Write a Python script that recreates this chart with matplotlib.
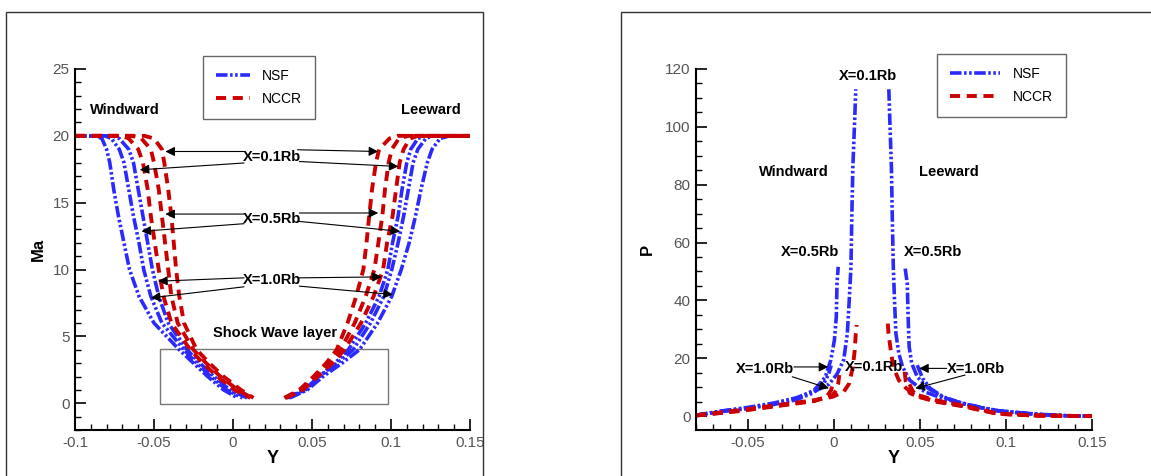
# -*- coding: utf-8 -*-
from matplotlib import pyplot as plt
from matplotlib.patches import Rectangle
from matplotlib.lines import Line2D
from matplotlib.ticker import MultipleLocator, FormatStrFormatter
import numpy as np

plt.rcParams['font.family'] = ['Liberation Sans', 'DejaVu Sans']
plt.rcParams['axes.unicode_minus'] = False

# ---- Mach number profiles (left plot) ----
# Ma levels where the profiles were read, top of the shock down to the wall
ma_levels = [20, 19.8, 19, 18, 16, 14, 12, 10, 8, 6, 4, 3, 2, 1, 0.4]

# windward side, Y at each Ma level
wind_nsf = {
    '1.0': [-0.087, -0.083, -0.080, -0.078, -0.0755, -0.0725, -0.069, -0.0655, -0.0595, -0.050, -0.034, -0.025, -0.016, -0.006, 0.003],
    '0.5': [-0.081, -0.077, -0.072, -0.069, -0.066, -0.063, -0.0595, -0.0565, -0.052, -0.045, -0.031, -0.023, -0.014, -0.004, 0.006],
    '0.1': [-0.076, -0.072, -0.066, -0.063, -0.060, -0.057, -0.054, -0.051, -0.047, -0.041, -0.029, -0.021, -0.012, -0.002, 0.009],
}
wind_nccr = {
    '1.0': [-0.070, -0.066, -0.060, -0.057, -0.054, -0.052, -0.0495, -0.047, -0.044, -0.039, -0.027, -0.019, -0.010, 0.001, 0.011],
    '0.5': [-0.064, -0.058, -0.052, -0.050, -0.047, -0.045, -0.043, -0.041, -0.039, -0.035, -0.025, -0.017, -0.008, 0.003, 0.012],
    '0.1': [-0.056, -0.050, -0.045, -0.0435, -0.041, -0.039, -0.0375, -0.036, -0.034, -0.031, -0.023, -0.015, -0.006, 0.005, 0.013],
}
# leeward side
lee_nsf = {
    '1.0': [0.137, 0.131, 0.126, 0.123, 0.119, 0.1155, 0.1115, 0.1065, 0.1005, 0.0915, 0.080, 0.069, 0.057, 0.047, 0.036],
    '0.5': [0.126, 0.122, 0.117, 0.114, 0.111, 0.108, 0.1045, 0.1005, 0.0955, 0.087, 0.076, 0.066, 0.055, 0.046, 0.035],
    '0.1': [0.121, 0.117, 0.1125, 0.110, 0.107, 0.1045, 0.101, 0.098, 0.0925, 0.084, 0.073, 0.0645, 0.0545, 0.045, 0.034],
}
lee_nccr = {
    '1.0': [0.117, 0.112, 0.108, 0.1055, 0.1032, 0.101, 0.0975, 0.095, 0.089, 0.081, 0.0705, 0.063, 0.0535, 0.044, 0.0335],
    '0.5': [0.111, 0.105, 0.1005, 0.0985, 0.0962, 0.0945, 0.092, 0.0895, 0.084, 0.077, 0.068, 0.061, 0.052, 0.043, 0.033],
    '0.1': [0.104, 0.099, 0.0925, 0.0905, 0.088, 0.0862, 0.0845, 0.0825, 0.078, 0.0725, 0.0656, 0.059, 0.051, 0.042, 0.0325],
}

# ---- pressure profiles (right plot) ----
p_wind_nsf = {
    '0.1': ([-0.08, -0.065, -0.05, -0.035, -0.022, -0.0113, -0.0028, 0.0019, 0.0058, 0.0079, 0.009, 0.0100, 0.0105, 0.0111, 0.0122, 0.0128],
            [0.3, 1.8, 3.0, 4.5, 6.3, 8.5, 11, 14.5, 19.5, 28.6, 40, 51.6, 69, 86, 103, 113]),
    '0.5': ([-0.08, -0.065, -0.05, -0.035, -0.022, -0.0113, -0.0049, -0.0017, 0.0004, 0.0015, 0.0019, 0.0026],
            [0.3, 1.7, 2.8, 4.3, 6.0, 9.0, 13.5, 19.4, 26.3, 34.4, 45.9, 51.6]),
    '1.0': ([-0.08, -0.065, -0.05, -0.035, -0.022, -0.012, -0.006, -0.003, -0.0015],
            [0.3, 1.6, 2.6, 4.0, 5.6, 8.0, 11, 14.5, 17.5]),
}
p_wind_nccr = {
    '0.1': ([-0.08, -0.054, -0.0327, -0.0113, -0.0006, 0.0058, 0.009, 0.0111, 0.0122, 0.0128, 0.0133],
            [0.3, 2.1, 3.8, 5.5, 6.7, 8.4, 11.3, 17, 22.8, 28.6, 31.5]),
    '0.5': ([-0.08, -0.054, -0.0327, -0.0113, -0.0006, 0.0015, 0.0026, 0.0032],
            [0.2, 1.9, 3.6, 5.3, 7.3, 9.0, 11.3, 14.2]),
    '1.0': ([-0.08, -0.054, -0.0327, -0.0113, -0.004, -0.0015, -0.0006],
            [0.2, 1.8, 3.5, 5.2, 6.8, 9.0, 11.3]),
}
p_lee_nsf = {
    '0.1': ([0.032, 0.0325, 0.0335, 0.034, 0.0346, 0.0353, 0.0361, 0.0378, 0.040, 0.0442, 0.0528, 0.0635, 0.0741, 0.0848, 0.0955, 0.1169, 0.1361, 0.15],
            [113, 103.5, 86, 69, 51.6, 40, 28.6, 21.7, 17, 12.4, 8.4, 6.1, 4.4, 3.0, 1.8, 0.7, 0.1, 0.0]),
    '0.5': ([0.0415, 0.0427, 0.0432, 0.0438, 0.0453, 0.0485, 0.0549, 0.0635, 0.0741, 0.0848, 0.0955, 0.1169, 0.1361, 0.15],
            [51, 45.9, 34.4, 24, 18.2, 13.6, 9.6, 6.5, 4.6, 3.1, 1.9, 0.7, 0.1, 0.0]),
    '1.0': ([0.0485, 0.0517, 0.056, 0.0635, 0.0741, 0.0848, 0.0955, 0.1169, 0.1361, 0.15],
            [17.6, 13, 9.6, 6.7, 4.5, 3.0, 1.8, 0.6, 0.1, 0.0]),
}
p_lee_nccr = {
    '0.1': ([0.0314, 0.0318, 0.0331, 0.0346, 0.0378, 0.0421, 0.0485, 0.0592, 0.0741, 0.0848, 0.0955, 0.1169, 0.15],
            [32, 28.6, 22.8, 17, 12.4, 9.6, 7.3, 5.5, 3.8, 2.3, 0.9, 0.2, 0.0]),
    '0.5': ([0.0412, 0.0418, 0.0441, 0.0485, 0.0592, 0.0741, 0.0848, 0.0955, 0.1169, 0.15],
            [15.3, 12.0, 8.0, 6.8, 5.2, 3.6, 2.2, 0.8, 0.2, 0.0]),
    '1.0': ([0.044, 0.046, 0.050, 0.0592, 0.0741, 0.0848, 0.0955, 0.1169, 0.15],
            [11.0, 8.5, 6.6, 5.0, 3.5, 2.1, 0.8, 0.2, 0.0]),
}

blue = '#2a2aff'
red = '#cc0000'
nsf_style = dict(color=blue, lw=2.6, linestyle=(0, (3.2, 0.7, 0.7, 0.7, 0.7, 0.7)))
nccr_style = dict(color=red, lw=2.8, linestyle=(0, (2.6, 1.7)))

W, H = 1151, 476
fig = plt.figure(figsize=(W / 100, H / 100), dpi=100)


def px_box(left, right, top, bottom):
    return [left / W, 1 - bottom / H, (right - left) / W, (bottom - top) / H]


# outer frames around each plot
fig.add_artist(Rectangle((6 / W, -0.1), (483 - 6) / W, 1.1 - 12 / H, transform=fig.transFigure,
                         fill=False, edgecolor='#333333', lw=1))
fig.add_artist(Rectangle((621 / W, -0.1), 1, 1.1 - 12 / H, transform=fig.transFigure,
                         fill=False, edgecolor='#333333', lw=1))

ax1 = fig.add_axes(px_box(75, 470, 69, 430))
ax2 = fig.add_axes(px_box(696, 1092, 69, 430))


def style_axes(ax, xmaj, xmin, ymaj, ymin):
    for s in ['top', 'right']:
        ax.spines[s].set_visible(False)
    for s in ['left', 'bottom']:
        ax.spines[s].set_linewidth(1.5)
    ax.xaxis.set_major_locator(MultipleLocator(xmaj))
    ax.xaxis.set_minor_locator(MultipleLocator(xmin))
    ax.yaxis.set_major_locator(MultipleLocator(ymaj))
    ax.yaxis.set_minor_locator(MultipleLocator(ymin))
    ax.xaxis.set_major_formatter(FormatStrFormatter('%g'))
    ax.yaxis.set_major_formatter(FormatStrFormatter('%g'))
    ax.tick_params(which='both', direction='in', top=False, right=False, labelcolor='#555555',
                   labelsize=11, pad=4)
    ax.tick_params(which='major', length=8, width=1.2)
    ax.tick_params(which='minor', length=4, width=1)


def legend_box(ax, x0, y0, hlen):
    handles = [Line2D([], [], **nsf_style), Line2D([], [], **nccr_style)]
    leg = ax.legend(handles, ['NSF', 'NCCR'], loc='upper left', bbox_to_anchor=(x0 / W, 1 - y0 / H),
                    bbox_transform=fig.transFigure, fancybox=False, edgecolor='#666666', framealpha=1,
                    fontsize=10, handlelength=hlen, handletextpad=0.9, borderpad=0.95, labelspacing=0.65,
                    borderaxespad=0)
    leg.get_frame().set_linewidth(1)


def arrow(ax, tail, head):
    ax.annotate('', xy=head, xytext=tail,
                arrowprops=dict(arrowstyle='-|>', color='black', lw=0.8, mutation_scale=14,
                                shrinkA=0, shrinkB=0))


bold = dict(fontweight='bold', fontsize=10.5, ha='center', va='center')

# ---- left: Ma ----
for key in ['1.0', '0.5', '0.1']:
    ax1.plot([-0.1] + wind_nsf[key], [20] + ma_levels, **nsf_style)
    ax1.plot(lee_nsf[key][::-1] + [0.15], ma_levels[::-1] + [20], **nsf_style)
for key in ['1.0', '0.5', '0.1']:
    ax1.plot([-0.1] + wind_nccr[key], [20] + ma_levels, **nccr_style)
    ax1.plot(lee_nccr[key][::-1] + [0.15], ma_levels[::-1] + [20], **nccr_style)

ax1.set_xlim(-0.1, 0.15)
ax1.set_ylim(-2, 25)
style_axes(ax1, 0.05, 0.01, 5, 1)
ax1.set_xlabel('Y', fontweight='bold', fontsize=13, labelpad=0)
ax1.set_ylabel('Ma', fontweight='bold', fontsize=12, labelpad=5)

ax1.text(-0.0685, 21.9, 'Windward', **bold)
ax1.text(0.1255, 21.9, 'Leeward', **bold)
ax1.text(0.0245, 18.4, 'X=0.1Rb', **bold)
ax1.text(0.0245, 13.75, 'X=0.5Rb', **bold)
ax1.text(0.0245, 9.2, 'X=1.0Rb', **bold)
ax1.text(0.0265, 5.25, 'Shock Wave layer', **bold)
ax1.add_patch(Rectangle((-0.0459, -0.05), 0.1439, 4.1, fill=False, edgecolor='#777777', lw=1))

# label arrows: (tail, head) in data units
ma_arrows = [
    ((0.007, 18.83), (-0.0428, 18.83)), ((0.007, 17.97), (-0.059, 17.46)),
    ((0.0408, 18.96), (0.0919, 18.83)), ((0.042, 18.08), (0.1047, 17.71)),
    ((0.007, 14.15), (-0.0428, 14.15)), ((0.007, 13.43), (-0.0579, 12.86)),
    ((0.042, 14.23), (0.0919, 14.23)), ((0.042, 13.6), (0.1058, 12.86)),
    ((0.007, 9.38), (-0.0474, 9.13)), ((0.007, 8.71), (-0.052, 7.88)),
    ((0.042, 9.38), (0.0942, 9.45)), ((0.042, 8.76), (0.1012, 8.13)),
]
for tail, head in ma_arrows:
    arrow(ax1, tail, head)

legend_box(ax1, 203, 56, 2.4)

# ---- right: P ----
for key in ['1.0', '0.5', '0.1']:
    ax2.plot(*p_wind_nsf[key], **nsf_style)
    ax2.plot(*p_lee_nsf[key], **nsf_style)
for key in ['1.0', '0.5', '0.1']:
    ax2.plot(*p_wind_nccr[key], **nccr_style)
    ax2.plot(*p_lee_nccr[key], **nccr_style)

ax2.set_xlim(-0.08, 0.15)
ax2.set_ylim(-4.8, 120)
style_axes(ax2, 0.05, 0.01, 20, 5)
ax2.set_xlabel('Y', fontweight='bold', fontsize=13, labelpad=0)
ax2.set_ylabel('P', fontweight='bold', fontsize=12, labelpad=7)

ax2.text(0.02, 117.6, 'X=0.1Rb', **bold)
ax2.text(-0.0229, 84.5, 'Windward', **bold)
ax2.text(0.0667, 84.5, 'Leeward', **bold)
ax2.text(-0.0137, 56.9, 'X=0.5Rb', **bold)
ax2.text(0.0579, 56.9, 'X=0.5Rb', **bold)
ax2.text(-0.0401, 16.3, 'X=1.0Rb', **bold)
ax2.text(0.0236, 17.0, 'X=0.1Rb', **bold)
ax2.text(0.0828, 16.3, 'X=1.0Rb', **bold)

p_arrows = [
    ((-0.0231, 17.0), (-0.0032, 17.0)), ((-0.0241, 13.6), (-0.0028, 9.6)),
    ((0.0656, 16.5), (0.0496, 16.5)), ((0.0763, 14.2), (0.0474, 9.6)),
]
for tail, head in p_arrows:
    arrow(ax2, tail, head)

legend_box(ax2, 937, 54, 3.6)

plt.savefig('out.png', dpi=100)
